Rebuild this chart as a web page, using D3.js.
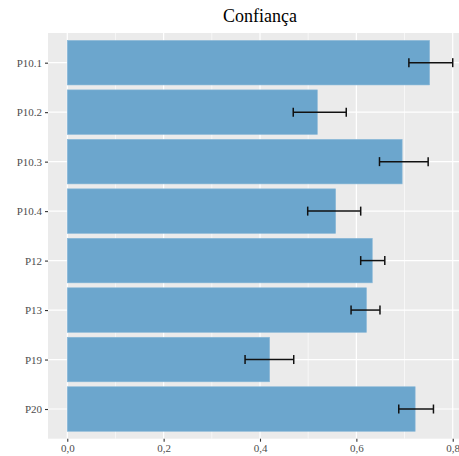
<!DOCTYPE html>
<html lang="pt">
<head>
    <meta charset="UTF-8">
    <title>Confiança</title>
    <script src="https://d3js.org/d3.v7.min.js"></script>
    <style>
        body { margin: 0; background: #fff; }
        svg { display: block; }
        svg text { font-family: "Liberation Serif", "Times New Roman", Times, serif; }
    </style>
</head>
<body>
    <div id="graphArea"></div>
    <script>
        const categories = ["P10.1", "P10.2", "P10.3", "P10.4", "P12", "P13", "P19", "P20"];
        const means = [0.752, 0.519, 0.695, 0.557, 0.633, 0.621, 0.420, 0.722];
        const lower = [0.709, 0.469, 0.648, 0.499, 0.609, 0.589, 0.369, 0.688];
        const upper = [0.800, 0.579, 0.749, 0.609, 0.659, 0.649, 0.470, 0.760];
        const xTicks = [0, 0.2, 0.4, 0.6, 0.8];
        const xMinor = [0.1, 0.3, 0.5, 0.7];

        const data = categories.map((c, i) => ({ cat: c, mean: means[i], lo: lower[i], hi: upper[i] }));

        const W = 459, H = 456;
        const panel = { left: 48, right: 472, top: 33, bottom: 438.7 };

        const svg = d3.select("#graphArea").append("svg")
            .attr("width", W)
            .attr("height", H);

        // ggplot style: 5% expansion on continuous axis
        const x = d3.scaleLinear()
            .domain([-0.04, 0.84])
            .range([panel.left, panel.right]);

        // discrete axis: 0.6 unit padding on each end
        const step = (panel.bottom - panel.top) / (categories.length - 1 + 1.2);
        const y = d3.scalePoint()
            .domain(categories)
            .range([panel.top + 0.6 * step, panel.bottom - 0.6 * step]);
        const barH = step * 0.9;

        svg.append("rect")
            .attr("x", panel.left).attr("y", panel.top)
            .attr("width", panel.right - panel.left)
            .attr("height", panel.bottom - panel.top)
            .attr("fill", "#ebebeb");

        const grid = svg.append("g");
        grid.selectAll(".minor").data(xMinor).join("line")
            .attr("x1", d => x(d)).attr("x2", d => x(d))
            .attr("y1", panel.top).attr("y2", panel.bottom)
            .attr("stroke", "#fff").attr("stroke-width", 0.6);
        grid.selectAll(".major").data(xTicks).join("line")
            .attr("x1", d => x(d)).attr("x2", d => x(d))
            .attr("y1", panel.top).attr("y2", panel.bottom)
            .attr("stroke", "#fff").attr("stroke-width", 1.2);
        grid.selectAll(".hmajor").data(categories).join("line")
            .attr("x1", panel.left).attr("x2", panel.right)
            .attr("y1", d => y(d)).attr("y2", d => y(d))
            .attr("stroke", "#fff").attr("stroke-width", 1.2);

        svg.append("g").selectAll("rect").data(data).join("rect")
            .attr("x", x(0))
            .attr("y", d => y(d.cat) - barH / 2)
            .attr("width", d => x(d.mean) - x(0))
            .attr("height", barH)
            .attr("fill", "#6ca6cd")
            .attr("stroke", "#8ab8d8")
            .attr("stroke-width", 0.6);

        const capH = 9;
        const eb = svg.append("g").attr("stroke", "#111").attr("stroke-width", 1.5);
        eb.selectAll(".h").data(data).join("line")
            .attr("x1", d => x(d.lo)).attr("x2", d => x(d.hi))
            .attr("y1", d => y(d.cat)).attr("y2", d => y(d.cat));
        eb.selectAll(".l").data(data).join("line")
            .attr("x1", d => x(d.lo)).attr("x2", d => x(d.lo))
            .attr("y1", d => y(d.cat) - capH / 2).attr("y2", d => y(d.cat) + capH / 2);
        eb.selectAll(".r").data(data).join("line")
            .attr("x1", d => x(d.hi)).attr("x2", d => x(d.hi))
            .attr("y1", d => y(d.cat) - capH / 2).attr("y2", d => y(d.cat) + capH / 2);

        const fmt = d3.format(".1f");
        const xAxis = svg.append("g")
            .attr("transform", `translate(0, ${panel.bottom})`)
            .call(d3.axisBottom(x).tickValues(xTicks).tickSize(3).tickPadding(3)
                .tickFormat(d => fmt(d).replace(".", ",")));
        const yAxis = svg.append("g")
            .attr("transform", `translate(${panel.left}, 0)`)
            .call(d3.axisLeft(y).tickSize(3).tickPadding(3));

        [xAxis, yAxis].forEach(a => {
            a.attr("font-family", null).attr("font-size", null);
            a.select(".domain").remove();
            a.selectAll(".tick line").attr("stroke", "#333").attr("stroke-width", 1.1);
            a.selectAll(".tick text")
                .attr("fill", "#4d4d4d")
                .style("font-size", "11px");
        });

        svg.append("text")
            .attr("x", (panel.left + panel.right) / 2)
            .attr("y", 22)
            .attr("text-anchor", "middle")
            .style("font-size", "18px")
            .attr("fill", "#000")
            .text("Confiança");
    </script>
</body>
</html>
